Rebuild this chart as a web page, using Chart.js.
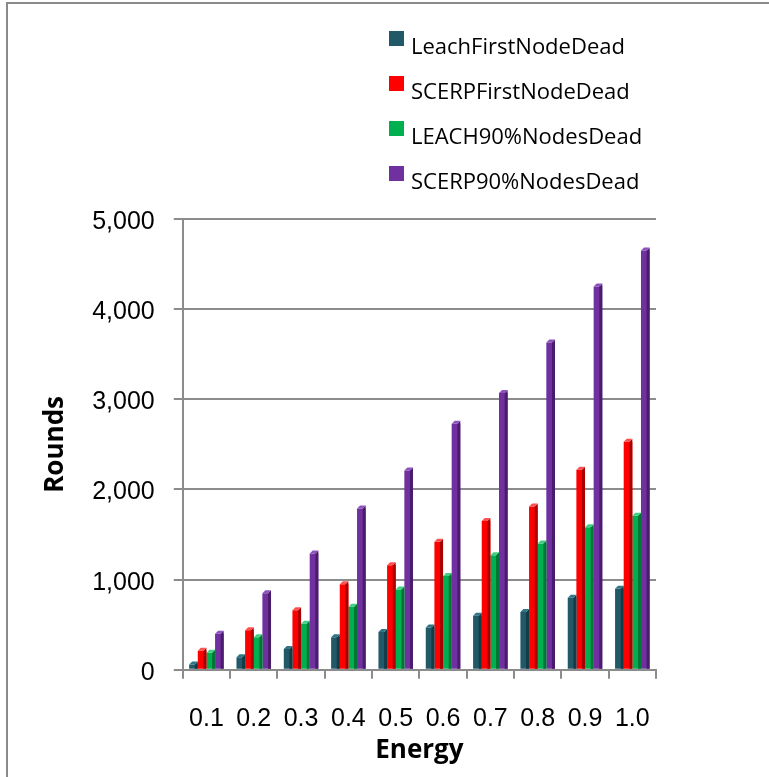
<!DOCTYPE html>
<html>
<head>
<meta charset="utf-8">
<script src="https://cdn.jsdelivr.net/npm/chart.js@4.4.1/dist/chart.umd.min.js"></script>
<style>
  html, body { margin: 0; padding: 0; background: #fff; overflow: hidden; }
  #wrap { width: 769px; height: 777px; }
</style>
</head>
<body>
<div id="wrap"><canvas id="roundsChart" width="769" height="777"></canvas></div>
<script>
// valeurs
const energy = ['0.1', '0.2', '0.3', '0.4', '0.5', '0.6', '0.7', '0.8', '0.9', '1.0'];
const leachFirstNodeDead = [60, 140, 230, 360, 420, 470, 600, 640, 800, 900];
const scerpFirstNodeDead = [210, 440, 660, 950, 1160, 1420, 1650, 1810, 2220, 2530];
const leach90NodesDead = [190, 360, 510, 700, 890, 1040, 1270, 1400, 1580, 1710];
const scerp90NodesDead = [400, 850, 1290, 1790, 2210, 2730, 3070, 3630, 4250, 4650];
const yMax = 5000;
const yStep = 1000;

const frontColors = ['#215968', '#ff0000', '#00b050', '#7030a0'];
const sideColors = ['#143c47', '#a80000', '#007535', '#4a1d6c'];
const topColors = ['#2f7587', '#ff5050', '#3fd083', '#8d52bd'];

// faces laterales et dessus des barres (effet 3D)
const barDepth = {
    id: 'barDepth',
    afterDatasetsDraw(chart) {
        const ctx = chart.ctx;
        const d = 3;
        chart.data.datasets.forEach((ds, i) => {
            const meta = chart.getDatasetMeta(i);
            meta.data.forEach(bar => {
                const p = bar.getProps(['x', 'y', 'base', 'width'], true);
                const xl = p.x - p.width / 2;
                const xr = p.x + p.width / 2;
                ctx.save();
                ctx.fillStyle = sideColors[i];
                ctx.beginPath();
                ctx.moveTo(xr - d, p.y);
                ctx.lineTo(xr, p.y - d);
                ctx.lineTo(xr, p.base);
                ctx.lineTo(xr - d, p.base);
                ctx.closePath();
                ctx.fill();
                ctx.fillStyle = topColors[i];
                ctx.beginPath();
                ctx.moveTo(xl, p.y);
                ctx.lineTo(xl + d, p.y - d);
                ctx.lineTo(xr, p.y - d);
                ctx.lineTo(xr - d, p.y);
                ctx.closePath();
                ctx.fill();
                ctx.restore();
            });
        });
    }
};

// legende verticale en haut a droite + cadre
const sideLegend = {
    id: 'sideLegend',
    afterDraw(chart) {
        const ctx = chart.ctx;
        ctx.save();
        ctx.font = '22px "Open Sans"';
        ctx.textBaseline = 'alphabetic';
        ctx.textAlign = 'left';
        chart.data.datasets.forEach((ds, i) => {
            const y = 31 + i * 45;
            ctx.fillStyle = ds.backgroundColor;
            ctx.fillRect(389, y, 15, 15);
            ctx.fillStyle = '#000';
            ctx.fillText(ds.label, 411, y + 23);
        });
        ctx.strokeStyle = '#8a8a8a';
        ctx.lineWidth = 2;
        ctx.beginPath();
        ctx.moveTo(7, 777);
        ctx.lineTo(7, 3);
        ctx.lineTo(769, 3);
        ctx.stroke();
        ctx.restore();
    }
};

const ctx = document.getElementById('roundsChart').getContext('2d');
new Chart(ctx, {
    type: 'bar',
    data: {
        labels: energy,
        datasets: [{
            label: 'LeachFirstNodeDead',
            data: leachFirstNodeDead,
            backgroundColor: frontColors[0]
        }, {
            label: 'SCERPFirstNodeDead',
            data: scerpFirstNodeDead,
            backgroundColor: frontColors[1]
        }, {
            label: 'LEACH90%NodesDead',
            data: leach90NodesDead,
            backgroundColor: frontColors[2]
        }, {
            label: 'SCERP90%NodesDead',
            data: scerp90NodesDead,
            backgroundColor: frontColors[3]
        }]
    },
    options: {
        responsive: false,
        animation: false,
        datasets: {
            bar: {
                categoryPercentage: 0.73,
                barPercentage: 1.0
            }
        },
        layout: {
            padding: { left: 40, right: 113, top: 219, bottom: 11 }
        },
        plugins: {
            legend: { display: false },
            tooltip: { enabled: false }
        },
        scales: {
            x: {
                grid: {
                    offset: true,
                    drawOnChartArea: false,
                    drawTicks: true,
                    tickLength: 9,
                    color: '#8c8c8c',
                    lineWidth: 2
                },
                border: { color: '#8c8c8c', width: 2 },
                ticks: {
                    color: '#000',
                    font: { family: '"Liberation Sans", Arial', size: 25 },
                    padding: 25,
                    maxRotation: 0,
                    autoSkip: false
                },
                title: {
                    display: true,
                    text: 'Energy',
                    color: '#000',
                    font: { family: '"Open Sans"', size: 26, weight: 'bold' },
                    padding: { top: -24, bottom: 0 }
                }
            },
            y: {
                min: 0,
                max: yMax,
                ticks: {
                    stepSize: yStep,
                    color: '#000',
                    font: { family: '"Liberation Sans", Arial', size: 25 },
                    padding: 19,
                    labelOffset: 3,
                    callback: (v) => v.toLocaleString('en-US')
                },
                grid: {
                    color: '#8c8c8c',
                    lineWidth: 2,
                    tickLength: 9
                },
                border: { color: '#8c8c8c', width: 2 },
                title: {
                    display: true,
                    text: 'Rounds',
                    color: '#000',
                    font: { family: '"Open Sans"', size: 26, weight: 'bold' },
                    padding: { top: 0, bottom: 2 }
                }
            }
        }
    },
    plugins: [barDepth, sideLegend]
});
</script>
</body>
</html>
